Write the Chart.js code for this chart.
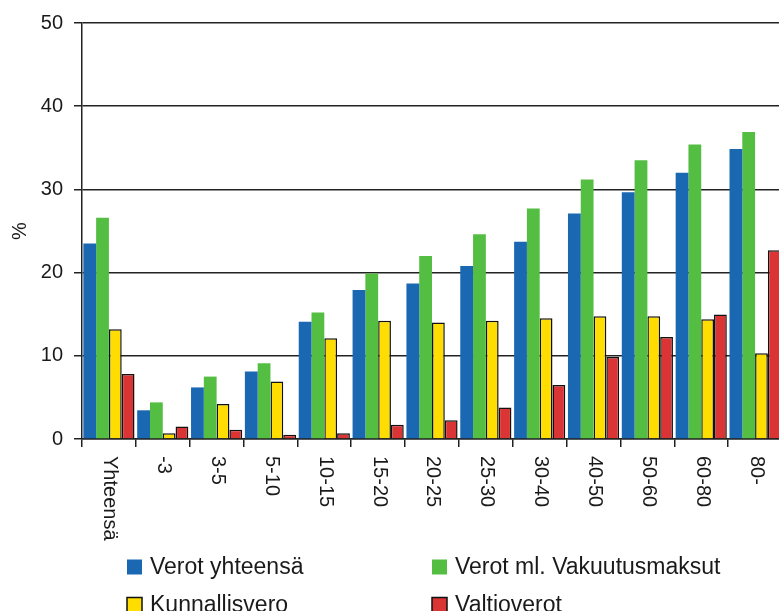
<!DOCTYPE html>
<html>
<head>
<meta charset="utf-8">
<script src="https://cdn.jsdelivr.net/npm/chart.js@4"></script>
<style>
  html, body { margin: 0; padding: 0; background: #fff; overflow: hidden; }
  #wrap { width: 782px; height: 611px; }
</style>
</head>
<body>
<div id="wrap"><canvas id="chart"></canvas></div>
<script>
const categories = ["Yhteensä", "-3", "3-5", "5-10", "10-15", "15-20", "20-25", "25-30", "30-40", "40-50", "50-60", "60-80", "80-"];
const verotYhteensa = [23.5, 3.45, 6.2, 8.1, 14.1, 17.9, 18.7, 20.8, 23.7, 27.1, 29.65, 32.0, 34.85];
const verotMlVakuutus = [26.6, 4.4, 7.5, 9.1, 15.2, 19.9, 22.0, 24.6, 27.7, 31.2, 33.5, 35.4, 36.9];
const kunnallisvero = [13.2, 0.7, 4.2, 6.9, 12.1, 14.2, 14.0, 14.2, 14.5, 14.75, 14.75, 14.4, 10.3];
const valtioverot = [7.8, 1.5, 1.1, 0.5, 0.7, 1.7, 2.25, 3.8, 6.5, 9.85, 12.25, 14.95, 22.7];
const seriesNames = ["Verot yhteensä", "Verot ml. Vakuutusmaksut", "Kunnallisvero", "Valtioverot"];

const FONT = '"Liberation Sans", Arial, sans-serif';

// rotated category labels + two-column legend
const extras = {
  id: "extras",
  afterDraw(chart) {
    const ctx = chart.ctx;
    const xs = chart.scales.x;
    const area = chart.chartArea;
    ctx.save();
    ctx.fillStyle = "#1a1a1a";
    ctx.font = "20px " + FONT;
    ctx.textAlign = "left";
    ctx.textBaseline = "middle";
    categories.forEach((c, i) => {
      ctx.save();
      ctx.translate(xs.getPixelForValue(i) + 1, area.bottom + 17);
      ctx.rotate(Math.PI / 2);
      ctx.fillText(c, 0, 0);
      ctx.restore();
    });

    const cols = [127, 432];
    const rows = [567, 605];
    ctx.font = "23px " + FONT;
    chart.data.datasets.forEach((ds, i) => {
      const x = cols[i % 2];
      const y = rows[Math.floor(i / 2)];
      ctx.fillStyle = ds.backgroundColor;
      ctx.fillRect(x, y - 7.5, 15, 15);
      if (ds.borderWidth) {
        ctx.strokeStyle = "#111";
        ctx.lineWidth = 1.5;
        ctx.strokeRect(x, y - 7.5, 15, 15);
      }
      ctx.fillStyle = "#1a1a1a";
      ctx.fillText(ds.label, x + 23, y + 1);
    });
    ctx.restore();
  }
};

new Chart(document.getElementById("chart"), {
  type: "bar",
  data: {
    labels: categories,
    datasets: [
      { label: seriesNames[0], data: verotYhteensa, backgroundColor: "#1a68b2", borderWidth: 0 },
      { label: seriesNames[1], data: verotMlVakuutus, backgroundColor: "#54be42", borderWidth: 0 },
      { label: seriesNames[2], data: kunnallisvero, backgroundColor: "#ffdd00", borderColor: "#111", borderWidth: 1.5 },
      { label: seriesNames[3], data: valtioverot, backgroundColor: "#da3434", borderColor: "#111", borderWidth: 1.5 }
    ]
  },
  options: {
    responsive: true,
    maintainAspectRatio: false,
    animation: false,
    layout: { padding: { top: 23, right: 0, bottom: 0, left: 0 } },
    datasets: { bar: { categoryPercentage: 0.95, barPercentage: 1.0 } },
    plugins: { legend: { display: false }, tooltip: { enabled: false } },
    scales: {
      x: {
        grid: { offset: true, drawOnChartArea: false, drawTicks: true, tickLength: 8, color: "#222", lineWidth: 1.5 },
        border: { color: "#222", width: 1.5 },
        ticks: { display: false },
        afterFit(scale) { scale.height = 172; }
      },
      y: {
        min: 0,
        max: 50,
        ticks: { stepSize: 10, color: "#1a1a1a", padding: 11, font: { family: FONT, size: 20 } },
        grid: { color: "#222", lineWidth: 1.5, tickLength: 8 },
        border: { color: "#222", width: 1.5 },
        title: { display: true, text: "%", color: "#1a1a1a", font: { family: FONT, size: 20 }, padding: { top: 8, bottom: 0 } },
        afterFit(scale) { scale.width = 82; }
      }
    }
  },
  plugins: [extras]
});
</script>
</body>
</html>
